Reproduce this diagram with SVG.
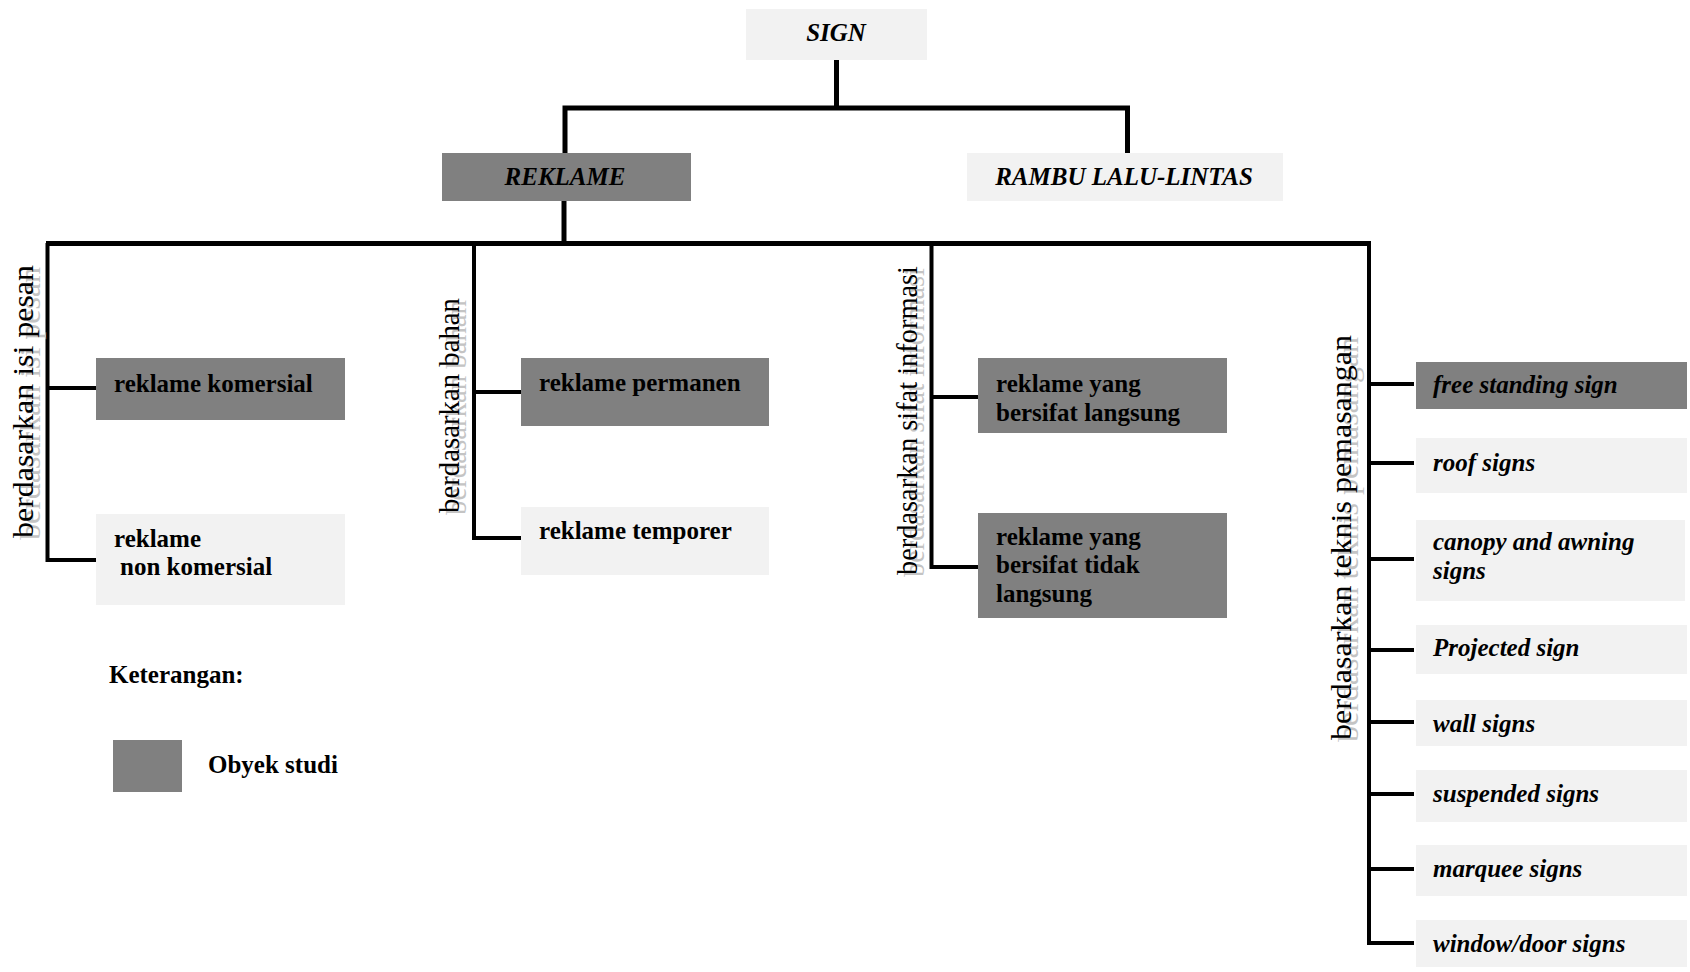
<svg xmlns="http://www.w3.org/2000/svg" width="1690" height="972" viewBox="0 0 1690 972">
<style>
.dark{fill:#808080}
.light{fill:#f2f2f2}
.t{font-family:"Liberation Serif","Times New Roman",serif;font-size:25px;font-weight:bold;fill:#000}
.i{font-style:italic}
.lbl{font-family:"Liberation Serif","Times New Roman",serif;font-size:30px;fill:#000}
.sh{fill:#c4c4c4}
.thick{fill:none;stroke:#000;stroke-width:5;stroke-linejoin:miter}
.thin{fill:none;stroke:#000;stroke-width:4;stroke-linejoin:miter}
</style>
<rect width="1690" height="972" fill="#fff"/>
<g id="connectors">
<path class="thick" d="M836.5,60 V108"/>
<path class="thick" d="M565,153 V108 H1127.5 V153"/>
<path class="thick" d="M564,201 V243"/>
<path class="thick" d="M46,243.5 H1371"/>
<path class="thin" d="M47.5,243 V560 H96 M47.5,388 H96"/>
<path class="thin" d="M474,243 V538 H521 M474,392 H521"/>
<path class="thin" d="M931.5,243 V567 H978 M931.5,397 H978"/>
<path class="thin" d="M1369,243 V943 H1414 M1369,384 H1414 M1369,463 H1414 M1369,559 H1414 M1369,650 H1414 M1369,722 H1414 M1369,794 H1414 M1369,869 H1414"/>
</g>
<g id="sign"><rect class="light" x="746" y="9" width="181" height="51"/><text class="t i" x="836" y="41" text-anchor="middle">SIGN</text></g>
<g id="reklame"><rect class="dark" x="442" y="153" width="249" height="48"/><text class="t i" x="565" y="185" text-anchor="middle">REKLAME</text></g>
<g id="rambu"><rect class="light" x="967" y="153" width="316" height="48"/><text class="t i" x="1124" y="185" text-anchor="middle">RAMBU LALU-LINTAS</text></g>

<g id="label-isi-pesan">
<text class="lbl sh" transform="translate(40,540) rotate(-90)" textLength="273" lengthAdjust="spacingAndGlyphs">berdasarkan isi pesan</text>
<text class="lbl" transform="translate(33,538) rotate(-90)" textLength="273" lengthAdjust="spacingAndGlyphs">berdasarkan isi pesan</text>
</g>
<g id="label-bahan">
<text class="lbl sh" transform="translate(466,515) rotate(-90)" textLength="215" lengthAdjust="spacingAndGlyphs">berdasarkan bahan</text>
<text class="lbl" transform="translate(459,513) rotate(-90)" textLength="215" lengthAdjust="spacingAndGlyphs">berdasarkan bahan</text>
</g>
<g id="label-informasi">
<text class="lbl sh" transform="translate(924,577) rotate(-90)" textLength="309" lengthAdjust="spacingAndGlyphs">berdasarkan sifat informasi</text>
<text class="lbl" transform="translate(917,575) rotate(-90)" textLength="309" lengthAdjust="spacingAndGlyphs">berdasarkan sifat informasi</text>
</g>
<g id="label-teknis">
<text class="lbl sh" transform="translate(1358,742) rotate(-90)" textLength="405" lengthAdjust="spacingAndGlyphs">berdasarkan teknis pemasangan</text>
<text class="lbl" transform="translate(1351,740) rotate(-90)" textLength="405" lengthAdjust="spacingAndGlyphs">berdasarkan teknis pemasangan</text>
</g>

<g id="komersial"><rect class="dark" x="96" y="358" width="249" height="62"/><text class="t" x="114" y="392">reklame komersial</text></g>
<g id="non-komersial"><rect class="light" x="96" y="514" width="249" height="91"/><text class="t" x="114" y="547">reklame</text><text class="t" x="120" y="575">non komersial</text></g>
<g id="permanen"><rect class="dark" x="521" y="358" width="248" height="68"/><text class="t" x="539" y="391">reklame permanen</text></g>
<g id="temporer"><rect class="light" x="521" y="507" width="248" height="68"/><text class="t" x="539" y="539">reklame temporer</text></g>
<g id="langsung"><rect class="dark" x="978" y="358" width="249" height="75"/><text class="t" x="996" y="392">reklame yang</text><text class="t" x="996" y="421">bersifat langsung</text></g>
<g id="tidak-langsung"><rect class="dark" x="978" y="513" width="249" height="105"/><text class="t" x="996" y="545">reklame yang</text><text class="t" x="996" y="573">bersifat tidak</text><text class="t" x="996" y="602">langsung</text></g>

<g id="free-standing"><rect class="dark" x="1416" y="362" width="271" height="47"/><text class="t i" x="1433" y="393">free standing sign</text></g>
<g id="roof"><rect class="light" x="1416" y="438" width="271" height="55"/><text class="t i" x="1433" y="471">roof signs</text></g>
<g id="canopy"><rect class="light" x="1416" y="520" width="269" height="81"/><text class="t i" x="1433" y="550">canopy and awning</text><text class="t i" x="1433" y="579">signs</text></g>
<g id="projected"><rect class="light" x="1416" y="625" width="271" height="49"/><text class="t i" x="1433" y="656">Projected sign</text></g>
<g id="wall"><rect class="light" x="1416" y="700" width="271" height="46"/><text class="t i" x="1433" y="732">wall signs</text></g>
<g id="suspended"><rect class="light" x="1416" y="770" width="271" height="52"/><text class="t i" x="1433" y="802">suspended signs</text></g>
<g id="marquee"><rect class="light" x="1416" y="845" width="271" height="51"/><text class="t i" x="1433" y="877">marquee signs</text></g>
<g id="window-door"><rect class="light" x="1416" y="920" width="271" height="47"/><text class="t i" x="1433" y="952">window/door signs</text></g>

<g id="legend">
<text class="t" x="109" y="683">Keterangan:</text>
<rect class="dark" x="113" y="740" width="69" height="52"/>
<text class="t" x="208" y="773">Obyek studi</text>
</g>
</svg>
